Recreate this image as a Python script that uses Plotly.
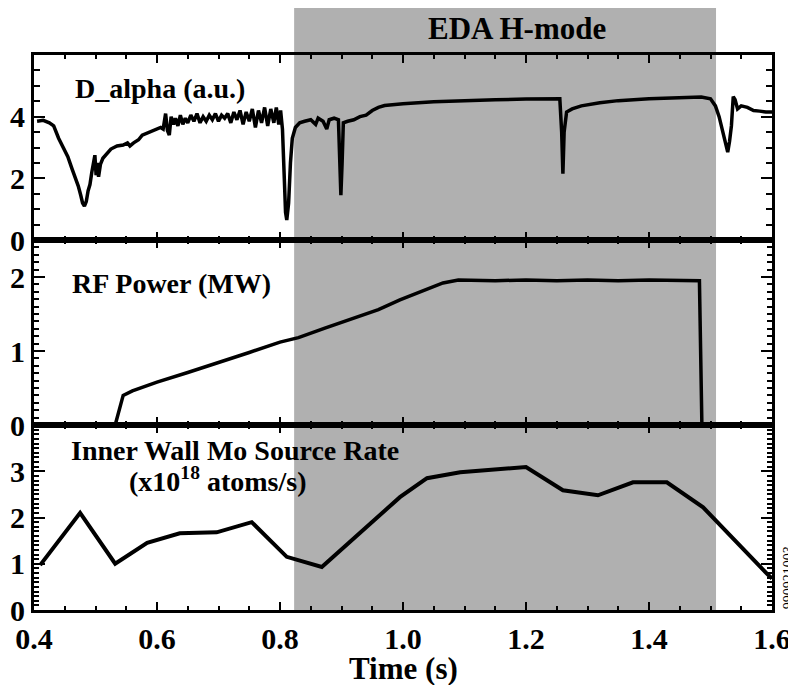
import plotly.graph_objects as go
from plotly.subplots import make_subplots

# D_alpha trace (a.u.)
dalpha_t = [0.405, 0.415, 0.425, 0.432, 0.440, 0.448, 0.455, 0.462, 0.468, 0.472,
            0.476, 0.479, 0.482, 0.485, 0.488, 0.491, 0.494, 0.497, 0.499, 0.501,
            0.503, 0.505, 0.508, 0.512, 0.518, 0.525, 0.535, 0.545, 0.552, 0.556,
            0.562, 0.570, 0.576, 0.582, 0.588, 0.594, 0.600, 0.606, 0.610, 0.614,
            0.617, 0.620, 0.623, 0.627, 0.630, 0.634, 0.638, 0.642, 0.646, 0.650,
            0.655, 0.660, 0.665, 0.670, 0.675, 0.680, 0.685, 0.690, 0.695, 0.700,
            0.705, 0.710, 0.715, 0.720, 0.725, 0.730, 0.735, 0.740, 0.745, 0.750,
            0.755, 0.760, 0.765, 0.770, 0.775, 0.780, 0.785, 0.790, 0.794, 0.798,
            0.801, 0.804, 0.807, 0.809, 0.811, 0.814, 0.817, 0.820, 0.825, 0.832,
            0.840, 0.850, 0.858, 0.862, 0.870, 0.876, 0.880, 0.888, 0.895, 0.897,
            0.899, 0.901, 0.903, 0.910, 0.920, 0.930, 0.940, 0.950, 0.960, 0.970,
            0.980, 1.000, 1.050, 1.100, 1.150, 1.200, 1.255, 1.258, 1.260, 1.262,
            1.266, 1.275, 1.290, 1.320, 1.350, 1.400, 1.450, 1.485, 1.500, 1.508,
            1.514, 1.520, 1.525, 1.528, 1.531, 1.534, 1.537, 1.540, 1.544, 1.550,
            1.560, 1.570, 1.580, 1.590, 1.600]
dalpha_v = [3.85, 3.88, 3.80, 3.70, 3.30, 2.95, 2.70, 2.30, 2.00, 1.75,
            1.45, 1.20, 1.10, 1.25, 1.60, 1.80, 2.20, 2.55, 2.75, 2.10,
            2.50, 2.05, 2.45, 2.65, 2.80, 2.95, 3.05, 3.08, 3.15, 3.05,
            3.15, 3.25, 3.40, 3.45, 3.50, 3.55, 3.58, 3.65, 3.60, 4.10,
            3.55, 3.40, 4.00, 3.75, 3.95, 3.70, 4.05, 3.75, 3.95, 3.80,
            4.05, 3.85, 4.10, 3.80, 4.00, 3.85, 4.05, 3.90, 4.10, 3.85,
            4.05, 3.95, 4.10, 3.80, 4.15, 3.90, 4.20, 3.75, 4.15, 3.85,
            4.25, 3.65, 4.20, 3.80, 4.30, 3.70, 4.25, 3.80, 4.30, 3.75,
            4.20, 3.60, 2.00, 0.90, 0.65, 1.20, 2.50, 3.30, 3.65, 3.80,
            3.85, 3.90, 3.75, 3.95, 3.85, 3.60, 3.90, 3.95, 3.90, 2.50,
            1.45, 2.50, 3.80, 3.85, 3.90, 4.00, 4.05, 4.20, 4.30, 4.36,
            4.38, 4.42, 4.48, 4.52, 4.55, 4.57, 4.58, 3.50, 2.15, 3.50,
            4.15, 4.25, 4.35, 4.45, 4.52, 4.58, 4.62, 4.64, 4.58, 4.35,
            4.00, 3.50, 3.00, 2.85, 3.20, 3.70, 4.65, 4.55, 4.25, 4.35,
            4.30, 4.20, 4.18, 4.15, 4.15]

# RF power (MW)
rf_t = [0.532, 0.545, 0.560, 0.600, 0.650, 0.700, 0.750, 0.800, 0.830, 0.873,
        0.920, 0.960, 0.995, 1.030, 1.065, 1.090, 1.150, 1.200, 1.250, 1.300,
        1.350, 1.400, 1.450, 1.482, 1.486]
rf_v = [0.0, 0.40, 0.46, 0.58, 0.71, 0.84, 0.98, 1.12, 1.18, 1.31,
        1.44, 1.56, 1.69, 1.80, 1.92, 1.96, 1.95, 1.96, 1.95, 1.96,
        1.95, 1.96, 1.95, 1.95, 0.0]

# inner wall Mo source rate (1e18 atoms/s)
mo_t = [0.410, 0.475, 0.532, 0.584, 0.637, 0.697, 0.754, 0.811, 0.868, 0.995,
        1.039, 1.093, 1.200, 1.260, 1.317, 1.374, 1.429, 1.488, 1.592, 1.600]
mo_v = [0.97, 2.10, 1.00, 1.45, 1.66, 1.68, 1.90, 1.15, 0.93, 2.44,
        2.85, 2.98, 3.09, 2.59, 2.48, 2.76, 2.76, 2.22, 0.78, 0.68]

eda_start, eda_end = 0.823, 1.509

x_ticks = [0.4, 0.6, 0.8, 1.0, 1.2, 1.4, 1.6]
x_ticktext = ["0.4", "0.6", "0.8", "1.0", "1.2", "1.4", "1.6"]

FONT = "Liberation Serif, Times New Roman, serif"

fig = make_subplots(rows=3, cols=1, shared_xaxes=True, vertical_spacing=0)

fig.add_trace(go.Scatter(x=dalpha_t, y=dalpha_v, mode="lines",
                         line=dict(color="black", width=3.5)), row=1, col=1)
fig.add_trace(go.Scatter(x=rf_t, y=rf_v, mode="lines",
                         line=dict(color="black", width=3.5)), row=2, col=1)
fig.add_trace(go.Scatter(x=mo_t, y=mo_v, mode="lines",
                         line=dict(color="black", width=4)), row=3, col=1)

# EDA H-mode shading
fig.add_shape(type="rect", xref="x3", yref="paper", x0=eda_start, x1=eda_end,
              y0=0, y1=1.0865, fillcolor="#b0b0b0", line_width=0, layer="below")

tickfont = dict(family=FONT, size=30, color="black", weight="bold")
for r in (1, 2, 3):
    fig.update_xaxes(range=[0.4, 1.6], tickvals=x_ticks, ticktext=x_ticktext,
                     ticks="inside", ticklen=8, tickwidth=2, tickcolor="black",
                     minor=dict(dtick=0.05, tick0=0.4, ticks="inside", ticklen=4,
                                tickwidth=1.5, tickcolor="black"),
                     showline=True, linewidth=3, linecolor="black", mirror="ticks",
                     showgrid=False, zeroline=False, tickfont=tickfont,
                     automargin=False, row=r, col=1)
fig.update_xaxes(showticklabels=False, row=1, col=1)
fig.update_xaxes(showticklabels=False, row=2, col=1)

y_common = dict(ticks="inside", ticklen=11, tickwidth=2, tickcolor="black",
                showline=True, linewidth=3, linecolor="black", mirror="ticks",
                showgrid=False, zeroline=False, tickfont=tickfont, automargin=False)
fig.update_yaxes(range=[0, 6], tickvals=[0, 2, 4],
                 minor=dict(dtick=0.5, tick0=0, ticks="inside", ticklen=6,
                            tickwidth=1.5, tickcolor="black"),
                 row=1, col=1, **y_common)
fig.update_yaxes(range=[0, 2.5], tickvals=[0, 1, 2],
                 minor=dict(dtick=0.1, tick0=0, ticks="inside", ticklen=5,
                            tickwidth=1.5, tickcolor="black"),
                 row=2, col=1, **y_common)
fig.update_yaxes(range=[0, 4], tickvals=[0, 1, 2, 3],
                 minor=dict(dtick=0.1, tick0=0, ticks="inside", ticklen=5,
                            tickwidth=1.5, tickcolor="black"),
                 row=3, col=1, **y_common)

label_font = dict(family=FONT, size=28, color="black", weight="bold")
fig.add_annotation(x=0.605, y=4.9, xref="x", yref="y", text="D_alpha (a.u.)",
                   showarrow=False, font=label_font)
fig.add_annotation(x=0.624, y=1.91, xref="x2", yref="y2", text="RF Power (MW)",
                   showarrow=False, font=label_font)
fig.add_annotation(x=0.727, y=3.45, xref="x3", yref="y3",
                   text="Inner Wall Mo Source Rate", showarrow=False, font=label_font)
fig.add_annotation(x=0.699, y=2.82, xref="x3", yref="y3",
                   text="(x10<sup>18</sup> atoms/s)", showarrow=False, font=label_font)
fig.add_annotation(x=1.185, y=1.0486, xref="x3", yref="paper", yanchor="middle",
                   text="EDA H-mode", showarrow=False,
                   font=dict(family=FONT, size=31, color="black", weight="bold"))
fig.add_annotation(x=1.0, y=-0.105, xref="x3", yref="paper", yanchor="middle",
                   text="Time (s)", showarrow=False,
                   font=dict(family=FONT, size=31, color="black", weight="bold"))
fig.add_annotation(x=1.0, y=0.057, xref="paper", yref="paper", xanchor="center",
                   yanchor="middle", xshift=16, text="990921003", textangle=-90,
                   showarrow=False, font=dict(family=FONT, size=14, color="black"))

# page body has an 8px margin, so the figure is drawn 8px smaller
fig.update_layout(width=788, height=677, showlegend=False,
                  margin=dict(l=26, r=24, t=47, b=75),
                  plot_bgcolor="white", paper_bgcolor="white",
                  font=dict(family=FONT, color="black"))

fig.write_html("out.html")
